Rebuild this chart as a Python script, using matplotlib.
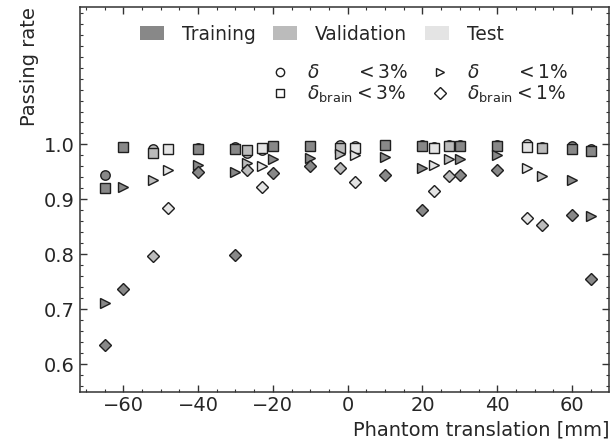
import numpy as np
import matplotlib
matplotlib.use('Agg')
import matplotlib.pyplot as plt
from matplotlib.patches import Patch
from matplotlib.lines import Line2D
from matplotlib.ticker import MultipleLocator

# phantom translations (mm) per data split
train_x = [-65, -60, -40, -30, -20, -10, 10, 20, 30, 40, 60, 65]
val_x = [-52, -27, -2, 27, 52]
test_x = [-48, -23, 2, 23, 48]

# passing rates: delta<3%, delta_brain<3%, delta<1%, delta_brain<1%
train_d3 = [0.945, 0.996, 0.993, 0.995, 0.998, 0.998, 0.999, 0.999, 0.999, 0.999, 0.998, 0.991]
train_b3 = [0.920, 0.996, 0.991, 0.992, 0.997, 0.997, 0.999, 0.998, 0.997, 0.998, 0.992, 0.988]
train_d1 = [0.712, 0.922, 0.963, 0.950, 0.974, 0.976, 0.978, 0.958, 0.974, 0.980, 0.936, 0.869]
train_b1 = [0.634, 0.737, 0.950, 0.799, 0.948, 0.960, 0.945, 0.881, 0.945, 0.954, 0.871, 0.755]

val_d3 = [0.991, 0.985, 0.999, 0.999, 0.996]
val_b3 = [0.985, 0.989, 0.994, 0.998, 0.994]
val_d1 = [0.936, 0.967, 0.982, 0.973, 0.942]
val_b1 = [0.796, 0.954, 0.957, 0.942, 0.854]

test_d3 = [0.992, 0.990, 0.997, 0.995, 1.000]
test_b3 = [0.992, 0.993, 0.994, 0.994, 0.996]
test_d1 = [0.954, 0.960, 0.981, 0.962, 0.957]
test_b1 = [0.884, 0.922, 0.931, 0.916, 0.866]

set_names = ['Training', 'Validation', 'Test']
set_colors = ['#888888', '#bbbbbb', '#e4e4e4']
metric_labels = [r'$\delta\hspace{2.0}<3\%$', r'$\delta_{\mathrm{brain}}<3\%$',
                 r'$\delta\hspace{2.0}<1\%$', r'$\delta_{\mathrm{brain}}<1\%$']
metric_markers = ['o', 's', '>', 'D']

ink = '#262626'
plt.rcParams.update({
    'font.family': 'DejaVu Sans',
    'font.size': 14,
    'text.color': ink,
    'axes.labelcolor': ink,
    'axes.edgecolor': '#333333',
    'axes.linewidth': 1.1,
    'xtick.color': '#333333',
    'ytick.color': '#333333',
    'xtick.labelcolor': ink,
    'ytick.labelcolor': ink,
    'xtick.direction': 'in',
    'ytick.direction': 'in',
    'xtick.top': True,
    'ytick.right': True,
    'xtick.major.size': 5,
    'ytick.major.size': 5,
    'xtick.minor.size': 2.5,
    'ytick.minor.size': 2.5,
    'xtick.major.width': 1.0,
    'ytick.major.width': 1.0,
    'xtick.minor.width': 0.8,
    'ytick.minor.width': 0.8,
    'mathtext.fontset': 'dejavusans',
})

fig = plt.figure(figsize=(6.14, 4.48), dpi=100)
ax = fig.add_axes([0.130, 0.126, 0.862, 0.858])

groups = [
    (train_x, [train_d3, train_b3, train_d1, train_b1]),
    (val_x, [val_d3, val_b3, val_d1, val_b1]),
    (test_x, [test_d3, test_b3, test_d1, test_b1]),
]
for (xs, metrics), col in zip(groups, set_colors):
    for vals, mk in zip(metrics, metric_markers):
        ax.plot(xs, vals, linestyle='none', marker=mk, ms=6.8 if mk != 'D' else 6.6,
                mfc=col, mec='#1e1e1e', mew=1.0)

ax.set_xlim(-71.6, 69.9)
ax.set_ylim(0.55, 1.25)
ax.set_yticks([0.6, 0.7, 0.8, 0.9, 1.0])
ax.xaxis.set_major_locator(MultipleLocator(20))
ax.xaxis.set_minor_locator(MultipleLocator(5))
ax.yaxis.set_minor_locator(MultipleLocator(0.02))
ax.tick_params(which='both', labelsize=14)

ax.set_xlabel('Phantom translation [mm]', loc='right', fontsize=14)
ax.set_ylabel('Passing rate', loc='top', fontsize=14)

# split legend
split_handles = [Patch(facecolor=c, edgecolor='none') for c in set_colors]
leg1 = ax.legend(split_handles, set_names, loc='center', bbox_to_anchor=(0.457, 0.930),
                 ncol=3, frameon=False, fontsize=13.4, handlelength=1.3,
                 handleheight=0.75, handletextpad=0.95, columnspacing=0.95,
                 borderaxespad=0, borderpad=0)
ax.add_artist(leg1)

# criterion legend, column-major order
marker_handles = [Line2D([], [], linestyle='none', marker=m, ms=6,
                         mfc='white', mec='#1e1e1e', mew=1.0) for m in metric_markers]
ax.legend(marker_handles, metric_labels, loc='center', bbox_to_anchor=(0.639, 0.800),
          ncol=2, frameon=False, fontsize=13.4, handlelength=1.3, handletextpad=0.8,
          columnspacing=1.1, labelspacing=0.05, borderaxespad=0, borderpad=0)

fig.savefig('out.png', dpi=100)
